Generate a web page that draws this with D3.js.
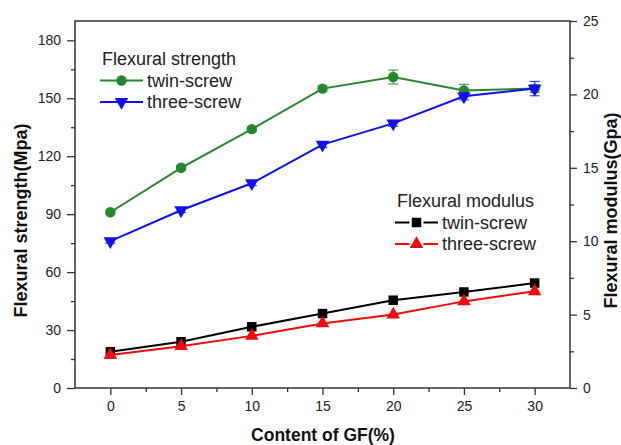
<!DOCTYPE html>
<html>
<head>
<meta charset="utf-8">
<script src="https://cdn.jsdelivr.net/npm/d3@7"></script>
<style>
  html, body { margin: 0; padding: 0; background: #fff; }
  svg { display: block; }
  text { font-family: "Liberation Sans", Arial, sans-serif; }
</style>
</head>
<body>
<script>
// ---- Data ----
const gfContent = [0, 5, 10, 15, 20, 25, 30];
const strengthTwin = [91, 114, 134, 155, 161, 154, 155];
const strengthTwinErr = [1, 1.2, 1.2, 1.5, 3.6, 3.2, 2];
const strengthThree = [76, 92, 106, 126, 137, 151, 155];
const strengthThreeErr = [1, 1.2, 1.2, 1.5, 1.5, 1.8, 3.7];
const modulusTwin = [2.47, 3.15, 4.17, 5.07, 5.98, 6.54, 7.15];
const modulusThree = [2.24, 2.85, 3.55, 4.4, 5.0, 5.9, 6.59];
const leftTicks = [0, 30, 60, 90, 120, 150, 180];
const rightTicks = [0, 5, 10, 15, 20, 25];
const xTicks = [0, 5, 10, 15, 20, 25, 30];

const W = 621, H = 445;
const M = { left: 75, right: 570, top: 21, bottom: 388 };

const svg = d3.select("body").append("svg").attr("width", W).attr("height", H);

const x = d3.scaleLinear().domain([-2.5, 32.5]).range([M.left, M.right]);
const yL = d3.scaleLinear().domain([0, 190]).range([M.bottom, M.top]);
const yR = d3.scaleLinear().domain([0, 25]).range([M.bottom, M.top]);

const axisColor = "#333";

// Frame
svg.append("rect")
  .attr("x", M.left).attr("y", M.top)
  .attr("width", M.right - M.left).attr("height", M.bottom - M.top)
  .attr("fill", "none").attr("stroke", axisColor).attr("stroke-width", 1.5);

function styleAxis(g) {
  g.select(".domain").remove();
  g.selectAll(".tick line").attr("stroke", axisColor).attr("stroke-width", 1.3);
  g.selectAll(".tick text").attr("font-size", 14).attr("fill", "#222")
    .attr("font-family", "'Liberation Sans', Arial, sans-serif");
}

// Bottom axis
const gx = svg.append("g").attr("transform", `translate(0,${M.bottom})`)
  .call(d3.axisBottom(x).tickValues(xTicks).tickSize(7).tickPadding(6));
styleAxis(gx);
svg.append("g").attr("transform", `translate(0,${M.bottom})`)
  .call(d3.axisBottom(x).tickValues([2.5, 7.5, 12.5, 17.5, 22.5, 27.5]).tickSize(4).tickFormat(""))
  .call(styleAxis);

// Left axis
const gl = svg.append("g").attr("transform", `translate(${M.left},0)`)
  .call(d3.axisLeft(yL).tickValues(leftTicks).tickSize(8).tickPadding(6));
styleAxis(gl);
svg.append("g").attr("transform", `translate(${M.left},0)`)
  .call(d3.axisLeft(yL).tickValues([15, 45, 75, 105, 135, 165]).tickSize(4).tickFormat(""))
  .call(styleAxis);

// Right axis
const gr = svg.append("g").attr("transform", `translate(${M.right},0)`)
  .call(d3.axisRight(yR).tickValues(rightTicks).tickSize(7).tickPadding(6));
styleAxis(gr);
svg.append("g").attr("transform", `translate(${M.right},0)`)
  .call(d3.axisRight(yR).tickValues([2.5, 7.5, 12.5, 17.5, 22.5]).tickSize(4).tickFormat(""))
  .call(styleAxis);

// Axis titles
svg.append("text")
  .attr("transform", `translate(27,${(M.top + M.bottom) / 2 + 16}) rotate(-90)`)
  .attr("text-anchor", "middle").attr("font-size", 18).attr("font-weight", "bold")
  .attr("fill", "#111")
  .text("Flexural strength(Mpa)");
svg.append("text")
  .attr("transform", `translate(617,${(M.top + M.bottom) / 2 + 6}) rotate(-90)`)
  .attr("text-anchor", "middle").attr("font-size", 18).attr("font-weight", "bold")
  .attr("fill", "#111")
  .text("Flexural modulus(Gpa)");
svg.append("text")
  .attr("x", 323).attr("y", 441)
  .attr("text-anchor", "middle").attr("font-size", 17.5).attr("font-weight", "bold")
  .attr("fill", "#111")
  .text("Content of GF(%)");

// Symbols
const sym = {
  circle: d3.symbol().type(d3.symbolCircle).size(85),
  square: d3.symbol().type(d3.symbolSquare).size(90),
  triUp: d3.symbol().type(d3.symbolTriangle).size(80)
};
function drawMarker(g, kind, cx, cy, color) {
  if (kind === "triDown") {
    g.append("path").attr("d", sym.triUp())
      .attr("transform", `translate(${cx},${cy}) rotate(180)`).attr("fill", color);
  } else {
    g.append("path").attr("d", sym[kind]())
      .attr("transform", `translate(${cx},${cy})`).attr("fill", color);
  }
}

function drawSeries(values, errs, yScale, color, kind) {
  const g = svg.append("g");
  const pts = gfContent.map((c, i) => [x(c), yScale(values[i])]);
  g.append("path").attr("d", d3.line()(pts))
    .attr("fill", "none").attr("stroke", color).attr("stroke-width", 2);
  if (errs) {
    gfContent.forEach((c, i) => {
      const cx = x(c), y1 = yScale(values[i] + errs[i]), y2 = yScale(values[i] - errs[i]);
      g.append("line").attr("x1", cx).attr("x2", cx).attr("y1", y1).attr("y2", y2)
        .attr("stroke", color).attr("stroke-width", 1.2).attr("opacity", 0.8);
      [y1, y2].forEach(yy => g.append("line").attr("x1", cx - 5).attr("x2", cx + 5)
        .attr("y1", yy).attr("y2", yy).attr("stroke", color).attr("stroke-width", 1.2).attr("opacity", 0.8));
    });
  }
  pts.forEach(p => drawMarker(g, kind, p[0], p[1], color));
}

const cGreen = "#23892a", cBlue = "#1010f5", cRed = "#f50a0a", cBlack = "#000";

drawSeries(strengthTwin, strengthTwinErr, yL, cGreen, "circle");
drawSeries(strengthThree, strengthThreeErr, yL, cBlue, "triDown");
drawSeries(modulusTwin, null, yR, cBlack, "square");
drawSeries(modulusThree, null, yR, cRed, "triUp");

// Legends
function legend(x0, yTitle, title, items, gapLine) {
  svg.append("text").attr("x", x0).attr("y", yTitle).attr("font-size", 18).attr("fill", "#222").text(title);
  items.forEach((it, i) => {
    const yy = yTitle + 21.5 * (i + 1);
    const lx1 = x0 - 2, lx2 = x0 + 41, mid = (lx1 + lx2) / 2;
    if (gapLine) {
      svg.append("line").attr("x1", lx1).attr("x2", mid - 7).attr("y1", yy - 6).attr("y2", yy - 6)
        .attr("stroke", it.color).attr("stroke-width", 2);
      svg.append("line").attr("x1", mid + 7).attr("x2", lx2).attr("y1", yy - 6).attr("y2", yy - 6)
        .attr("stroke", it.color).attr("stroke-width", 2);
    } else {
      svg.append("line").attr("x1", lx1).attr("x2", lx2).attr("y1", yy - 6).attr("y2", yy - 6)
        .attr("stroke", it.color).attr("stroke-width", 2);
    }
    drawMarker(svg, it.kind, mid, yy - 6, it.color);
    svg.append("text").attr("x", lx2 + 4).attr("y", yy).attr("font-size", 18).attr("fill", "#222").text(it.label);
  });
}
legend(102, 65, "Flexural strength", [
  { label: "twin-screw", color: cGreen, kind: "circle" },
  { label: "three-screw", color: cBlue, kind: "triDown" }
], false);
legend(397, 207, "Flexural modulus", [
  { label: "twin-screw", color: cBlack, kind: "square" },
  { label: "three-screw", color: cRed, kind: "triUp" }
], true);
</script>
</body>
</html>
